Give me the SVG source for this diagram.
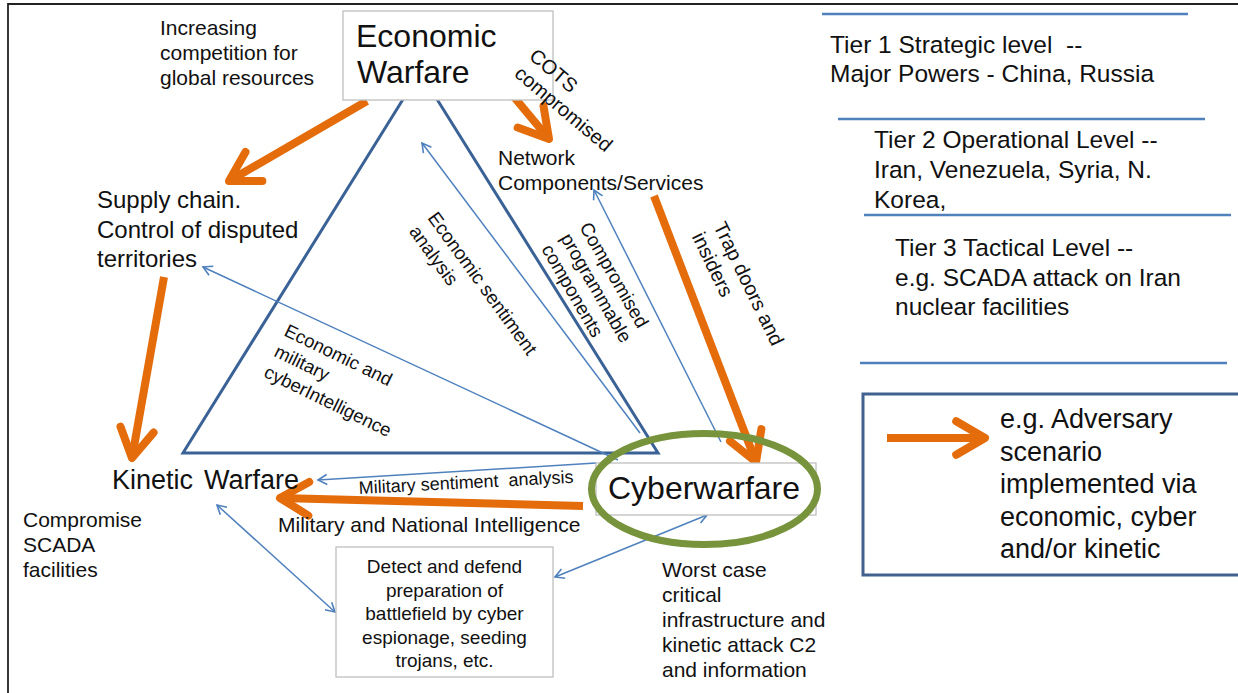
<svg xmlns="http://www.w3.org/2000/svg" width="1238" height="693" viewBox="0 0 1238 693">
<defs>
<style>
text{font-family:'Liberation Sans',Arial,sans-serif;fill:#111}
.or{stroke:#e46c0a;stroke-width:8;fill:none;marker-end:url(#oh)}
.bl{stroke:#4f81bd;stroke-width:1.5;fill:none;marker-end:url(#bh)}
.bl2{stroke:#4f81bd;stroke-width:1.5;fill:none;marker-end:url(#bh);marker-start:url(#bhs)}
.box{fill:#fff;stroke:#bfbfbf;stroke-width:1.3}
.tier{font-size:24.5px}
.rl{font-size:19px}
</style>
<marker id="oh" markerUnits="strokeWidth" viewBox="-5 -3 6 6" markerWidth="6" markerHeight="6" refX="0" refY="0" orient="auto" overflow="visible">
<path d="M-3.6,-2.1 L0,0 L-3.6,2.1" fill="none" stroke="#e46c0a" stroke-width="1" stroke-linejoin="round" stroke-linecap="round"/>
</marker>
<marker id="bh" markerUnits="userSpaceOnUse" viewBox="-12 -7 14 14" markerWidth="14" markerHeight="14" refX="0" refY="0" orient="auto" overflow="visible">
<path d="M-9,-5 L0,0 L-9,5" fill="none" stroke="#4f81bd" stroke-width="1.6"/>
</marker>
<marker id="bhs" markerUnits="userSpaceOnUse" viewBox="-12 -7 14 14" markerWidth="14" markerHeight="14" refX="0" refY="0" orient="auto-start-reverse" overflow="visible">
<path d="M-9,-5 L0,0 L-9,5" fill="none" stroke="#4f81bd" stroke-width="1.6"/>
</marker>
</defs>
<rect width="1238" height="693" fill="#fff"/>
<path d="M8,693 V4 H1238" fill="none" stroke="#222" stroke-width="1.8"/>

<g id="triangle">
<polygon points="420,72 183,453 658,453" fill="none" stroke="#3b6296" stroke-width="3"/>
</g>

<g id="connectors">
<line class="bl" x1="618" y1="460" x2="203" y2="267"/>
<line class="bl" x1="640" y1="433" x2="422" y2="143"/>
<line class="bl" x1="721" y1="442" x2="594" y2="190"/>
<line class="bl" x1="596" y1="463" x2="318" y2="480"/>
<line class="bl2" x1="217" y1="505" x2="335" y2="612"/>
<line class="bl2" x1="555" y1="577" x2="707" y2="515"/>
<line class="or" x1="367" y1="101" x2="229" y2="181"/>
<line class="or" x1="485" y1="62" x2="549" y2="139"/>
<line class="or" x1="164" y1="277" x2="132" y2="458"/>
<line class="or" x1="654" y1="196" x2="756" y2="462"/>
<line class="or" x1="583" y1="506" x2="280" y2="498"/>
</g>

<g id="economic-warfare">
<rect class="box" x="343" y="11" width="210" height="89"/>
<text x="356" y="47" font-size="32">Economic</text>
<text x="357" y="83" font-size="32">Warfare</text>
</g>

<g id="cyberwarfare">
<rect class="box" x="596" y="463" width="220" height="52"/>
<ellipse cx="704.5" cy="489" rx="113" ry="55.5" fill="none" stroke="#77933c" stroke-width="7"/>
<text x="608" y="499" font-size="32">Cyberwarfare</text>
</g>

<g id="kinetic-warfare">
<text y="489" font-size="27"><tspan x="112">Kinetic</tspan><tspan x="204">Warfare</tspan></text>
</g>

<g id="supply-chain">
<text font-size="24"><tspan x="97" y="208">Supply chain.</tspan><tspan x="97" y="237.5">Control of disputed</tspan><tspan x="97" y="267">territories</tspan></text>
</g>

<g id="network-components">
<text font-size="21"><tspan x="498" y="165">Network</tspan><tspan x="498" y="190">Components/Services</tspan></text>
</g>

<g id="detect-box">
<rect class="box" x="336" y="547" width="217" height="130"/>
<text font-size="19" text-anchor="middle"><tspan x="444.5" y="573">Detect and defend</tspan><tspan x="444.5" y="596.5">preparation of</tspan><tspan x="444.5" y="620">battlefield by cyber</tspan><tspan x="444.5" y="643.5">espionage, seeding</tspan><tspan x="444.5" y="667">trojans, etc.</tspan></text>
</g>

<g id="labels">
<text font-size="21"><tspan x="160" y="35">Increasing</tspan><tspan x="160" y="60">competition for</tspan><tspan x="160" y="85">global resources</tspan></text>
<text font-size="21"><tspan x="23" y="527">Compromise</tspan><tspan x="23" y="552">SCADA</tspan><tspan x="23" y="577">facilities</tspan></text>
<text font-size="21"><tspan x="662" y="577">Worst case</tspan><tspan x="662" y="602">critical</tspan><tspan x="662" y="627">infrastructure and</tspan><tspan x="662" y="652">kinetic attack C2</tspan><tspan x="662" y="677">and information</tspan></text>
<text x="278" y="532" font-size="21">Military and National Intelligence</text>
<text transform="translate(359,494) rotate(-3)" font-size="18" xml:space="preserve">Military sentiment  analysis</text>
<text transform="translate(528,58) rotate(40)" font-size="20"><tspan x="0" y="0">COTS</tspan><tspan x="0" y="23">compromised</tspan></text>
<text transform="translate(713,226) rotate(64)" font-size="20"><tspan x="0" y="0">Trap doors and</tspan><tspan x="0" y="24">insiders</tspan></text>
<text transform="translate(427,218) rotate(54)" class="rl"><tspan x="0" y="0">Economic sentiment</tspan><tspan x="0" y="23">analysis</tspan></text>
<text transform="translate(579,227) rotate(60)" class="rl"><tspan x="0" y="0">Compromised</tspan><tspan x="0" y="22">programmable</tspan><tspan x="0" y="44">components</tspan></text>
<text transform="translate(283,335) rotate(26)" font-size="18.5"><tspan x="0" y="0">Economic and</tspan><tspan x="0" y="23">military</tspan><tspan x="0" y="46">cyberIntelligence</tspan></text>
</g>

<g id="tiers">
<line x1="822" y1="14" x2="1188" y2="14" stroke="#4f81bd" stroke-width="2.5"/>
<line x1="838" y1="119" x2="1205" y2="119" stroke="#4f81bd" stroke-width="2.5"/>
<line x1="864" y1="215" x2="1231" y2="215" stroke="#4f81bd" stroke-width="2.5"/>
<line x1="860" y1="363" x2="1227" y2="363" stroke="#4f81bd" stroke-width="2.5"/>
<text class="tier" xml:space="preserve"><tspan x="830" y="53">Tier 1 Strategic level  --</tspan><tspan x="830" y="82">Major Powers - China, Russia</tspan></text>
<text class="tier"><tspan x="874" y="148">Tier 2 Operational Level --</tspan><tspan x="874" y="178">Iran, Venezuela, Syria, N.</tspan><tspan x="874" y="208">Korea,</tspan></text>
<text class="tier"><tspan x="895" y="256">Tier 3 Tactical Level --</tspan><tspan x="895" y="286">e.g. SCADA attack on Iran</tspan><tspan x="895" y="315">nuclear facilities</tspan></text>
</g>

<g id="legend">
<rect x="863" y="394" width="380" height="181" fill="none" stroke="#41618f" stroke-width="3"/>
<line class="or" x1="887" y1="438" x2="985" y2="438"/>
<text font-size="27"><tspan x="1000" y="428">e.g. Adversary</tspan><tspan x="1000" y="460.5">scenario</tspan><tspan x="1000" y="493">implemented via</tspan><tspan x="1000" y="525.5">economic, cyber</tspan><tspan x="1000" y="558">and/or kinetic</tspan></text>
</g>
</svg>
